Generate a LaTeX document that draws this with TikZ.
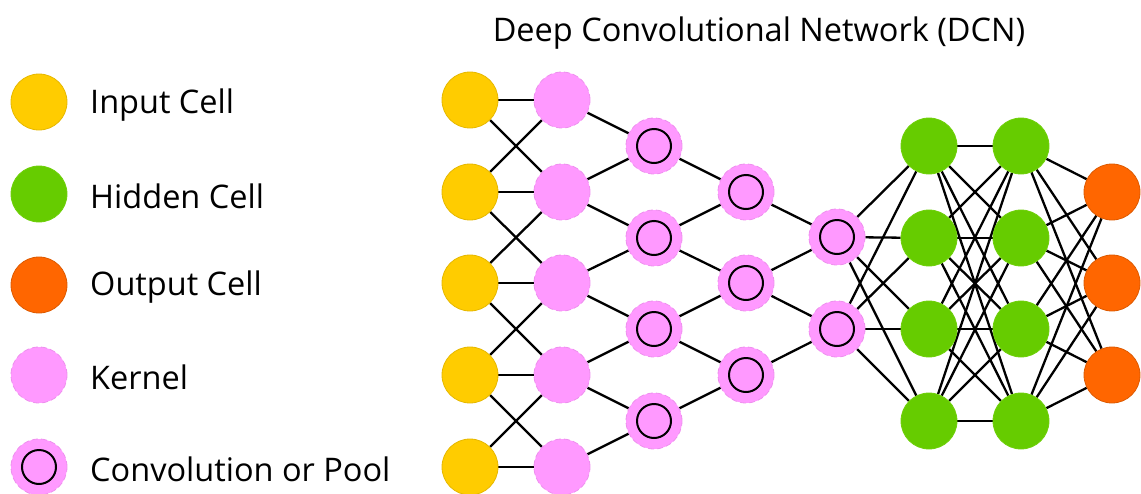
\documentclass[tikz,border=0pt]{standalone}
\usepackage{fontspec}
\setmainfont{Open Sans}
\pgfdeclarelayer{background}
\pgfsetlayers{background,main}
\definecolor{inyellow}{HTML}{FFCC00}
\definecolor{inyellowb}{HTML}{E6B800}
\definecolor{hidgreen}{HTML}{66CC00}
\definecolor{hidgreenb}{HTML}{70D00C}
\definecolor{outorange}{HTML}{FF6600}
\definecolor{outorangeb}{HTML}{DD5A00}
\definecolor{kerpink}{HTML}{FF99FF}
\definecolor{kerpinkb}{HTML}{EE90EE}
\tikzset{
  cell/.style={circle, minimum size=56pt, inner sep=0pt, line width=0.8pt},
  incell/.style={cell, fill=inyellow, draw=inyellowb},
  hidcell/.style={cell, fill=hidgreen, draw=hidgreenb},
  outcell/.style={cell, fill=outorange, draw=outorangeb},
  kercell/.style={cell, fill=kerpink, draw=kerpinkb, dash pattern=on 6pt off 3pt},
  convcell/.style={kercell, path picture={\draw[black, line width=2pt, solid] (path picture bounding box.center) circle (17pt);}},
  link/.style={black, line width=2.3pt},
  txt/.style={font=\fontsize{32.5}{38}\selectfont, inner sep=0pt},
  lab/.style={txt, anchor=west},
}
\begin{document}
\begin{tikzpicture}[x=1pt, y=-1pt]
\useasboundingbox (0,0) rectangle (1141,493);

% title
\node[txt] (title) at (759,33) {Deep Convolutional Network (DCN)};

% legend
\node[incell] (lgin) at (39,102) {};
\node[lab] (lgint) at (90,105) {Input Cell};
\node[hidcell] (lghid) at (39,194) {};
\node[lab] (lghidt) at (90,196) {Hidden Cell};
\node[outcell] (lgout) at (39,285) {};
\node[lab] (lgoutt) at (90,287) {Output Cell};
\node[kercell] (lgker) at (39,375) {};
\node[lab] (lgkert) at (90,377) {Kernel};
\node[convcell] (lgconv) at (39,467) {};
\node[lab] (lgconvt) at (90,469) {Convolution or Pool};

% network layers
\foreach \i/\y in {1/100,2/192,3/283,4/375,5/467} {
  \node[incell] (in\i) at (470,\y) {};
  \node[kercell] (k\i) at (562,\y) {};
}
\foreach \i/\y in {1/146,2/238,3/329,4/421} {
  \node[convcell] (ca\i) at (654,\y) {};
  \node[hidcell] (ha\i) at (929,\y) {};
  \node[hidcell] (hb\i) at (1021,\y) {};
}
\foreach \i/\y in {1/192,2/283,3/375} {
  \node[convcell] (cb\i) at (746,\y) {};
  \node[outcell] (o\i) at (1112,\y) {};
}
\node[convcell] (cc1) at (837,237) {};
\node[convcell] (cc2) at (837,329) {};

\begin{pgfonlayer}{background}
  % input -> kernel
  \foreach \i in {1,...,5} \draw[link] (in\i) -- (k\i);
  \foreach \i/\j in {1/2,2/3,3/4,4/5} {
    \draw[link] (in\i) -- (k\j);
    \draw[link] (in\j) -- (k\i);
  }
  % kernel -> first convolution
  \foreach \a/\b in {1/1,2/1,2/2,3/2,3/3,4/3,4/4,5/4} \draw[link] (k\a) -- (ca\b);
  % first -> second convolution
  \foreach \a/\b in {1/1,2/1,2/2,3/2,3/3,4/3} \draw[link] (ca\a) -- (cb\b);
  % second -> third convolution
  \foreach \a/\b in {1/1,2/1,2/2,3/2} \draw[link] (cb\a) -- (cc\b);
  % fully connected part
  \foreach \a in {1,2} \foreach \b in {1,...,4} \draw[link] (cc\a) -- (ha\b);
  \foreach \a in {1,...,4} \foreach \b in {1,...,4} \draw[link] (ha\a) -- (hb\b);
  \foreach \a in {1,...,4} \foreach \b in {1,2,3} \draw[link] (hb\a) -- (o\b);
\end{pgfonlayer}
\end{tikzpicture}
\end{document}
